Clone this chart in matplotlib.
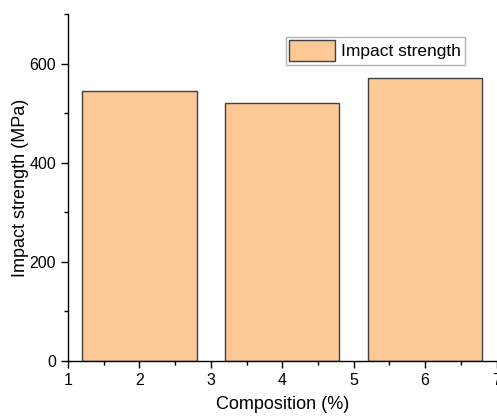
import numpy as np
import matplotlib.pyplot as plt

plt.rcParams['font.family'] = ['Liberation Sans', 'DejaVu Sans']

# data
composition = [2, 4, 6]
impact_strength = [545, 520, 570]

fig = plt.figure(figsize=(4.97, 4.16), dpi=100)
ax = fig.add_axes([0.1368, 0.1322, 0.8622, 0.8340])

ax.bar(composition, impact_strength, width=1.6, color='#FBC896',
       edgecolor='#404040', linewidth=1.0, label='Impact strength')

ax.set_xlim(1, 7)
ax.set_ylim(0, 700)
ax.set_xticks([1, 2, 3, 4, 5, 6, 7])
ax.set_xticks(np.arange(1.5, 7, 1.0), minor=True)
ax.set_yticks([0, 200, 400, 600])
ax.set_yticks([100, 300, 500, 700], minor=True)

for s in ['top', 'right']:
    ax.spines[s].set_visible(False)
for s in ['left', 'bottom']:
    ax.spines[s].set_linewidth(1.0)

ax.tick_params(which='major', direction='out', length=5, width=1, labelsize=11.5)
ax.tick_params(which='minor', direction='out', length=3, width=1)

ax.set_xlabel('Composition (%)', fontsize=13, labelpad=6)
ax.set_ylabel('Impact strength (MPa)', fontsize=13, labelpad=0)

leg = ax.legend(loc='upper right', bbox_to_anchor=(0.926, 0.934), fontsize=12.5,
                frameon=True, fancybox=False, edgecolor='#a0a0a0',
                handlelength=2.6, handleheight=1.45, borderpad=0.2,
                handletextpad=0.4, borderaxespad=0)
leg.get_frame().set_linewidth(1.0)

fig.savefig('out.png', dpi=100)
